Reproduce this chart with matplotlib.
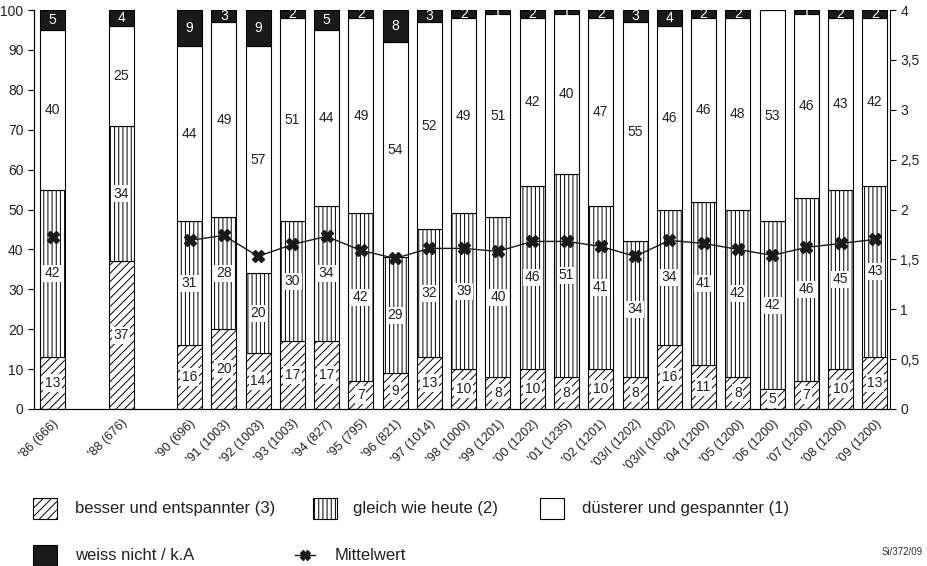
import numpy as np
import matplotlib
matplotlib.use("Agg")
import matplotlib.pyplot as plt
from matplotlib.patches import Rectangle
from matplotlib.lines import Line2D
from matplotlib.ticker import FuncFormatter

plt.rcParams['font.family'] = ['Liberation Sans', 'DejaVu Sans']
plt.rcParams['hatch.linewidth'] = 0.7

# Daten
jahre = ["'86 (666)", "'88 (676)", "'90 (696)", "'91 (1003)", "'92 (1003)", "'93 (1003)",
         "'94 (827)", "'95 (795)", "'96 (821)", "'97 (1014)", "'98 (1000)", "'99 (1201)",
         "'00 (1202)", "'01 (1235)", "'02 (1201)", "'03/I (1202)", "'03/II (1002)",
         "'04 (1200)", "'05 (1200)", "'06 (1200)", "'07 (1200)", "'08 (1200)", "'09 (1200)"]
besser = [13, 37, 16, 20, 14, 17, 17, 7, 9, 13, 10, 8, 10, 8, 10, 8, 16, 11, 8, 5, 7, 10, 13]
gleich = [42, 34, 31, 28, 20, 30, 34, 42, 29, 32, 39, 40, 46, 51, 41, 34, 34, 41, 42, 42, 46, 45, 43]
duester = [40, 25, 44, 49, 57, 51, 44, 49, 54, 52, 49, 51, 42, 40, 47, 55, 46, 46, 48, 53, 46, 43, 42]
weiss = [5, 4, 9, 3, 9, 2, 5, 2, 8, 3, 2, 1, 2, 1, 2, 3, 4, 2, 2, 0, 1, 2, 2]
mittelwert = [1.72, np.nan, 1.69, 1.74, 1.53, 1.65, 1.73, 1.59, 1.51, 1.61, 1.61, 1.58, 1.68,
              1.68, 1.63, 1.53, 1.69, 1.66, 1.60, 1.54, 1.62, 1.66, 1.70]

# Positionen: Lücken für '87 und '89
x = np.r_[0, 2, np.arange(4, 25)]

fig = plt.figure(figsize=(9.27, 5.66), dpi=100)
ax = fig.add_axes([34 / 927, 1 - 409 / 566, (890 - 34) / 927, 399 / 566])

b = np.array(besser)
g = np.array(gleich)
d = np.array(duester)
w = np.array(weiss)
breite = 0.73
box = dict(facecolor='white', edgecolor='none', pad=1.2)

def labels(vals):
    return [str(v) if v > 0 else '' for v in vals]

s1 = ax.bar(x, b, breite, color='white', edgecolor='black', hatch='////', linewidth=0.8)
s2 = ax.bar(x, g, breite, bottom=b, color='white', edgecolor='black', hatch='||||', linewidth=0.8)
s3 = ax.bar(x, d, breite, bottom=b + g, color='white', edgecolor='black', linewidth=0.8)
s4 = ax.bar(x, w, breite, bottom=b + g + d, color='#1a1a1a', edgecolor='black', linewidth=0.8)

for s, vals in [(s1, b), (s2, g), (s3, d)]:
    ax.bar_label(s, labels=labels(vals), label_type='center', fontsize=10, color='#222222', bbox=box)
ax.bar_label(s4, labels=labels(w), label_type='center', fontsize=10, color='white')

ax.set_xlim(-0.54, 24.44)
ax.set_ylim(0, 100)
ax.set_yticks(range(0, 101, 10))
ax.set_xticks(x)
ax.set_xticklabels(jahre, rotation=45, ha='right', rotation_mode='anchor', fontsize=9, color='#222222')
ax.tick_params(axis='x', length=0, pad=6)
ax.tick_params(axis='y', length=4, labelsize=10, labelcolor='#222222')
ax.spines['top'].set_visible(False)
ax.spines['right'].set_visible(False)

ax2 = ax.twinx()
ax2.plot(x, mittelwert, color='#1a1a1a', linewidth=1, marker='X', markersize=9,
         markerfacecolor='#1a1a1a', markeredgecolor='#1a1a1a')
ax2.set_ylim(0, 4)
ax2.set_yticks(np.arange(0, 4.01, 0.5))
ax2.yaxis.set_major_formatter(FuncFormatter(lambda v, p: ('%g' % v).replace('.', ',')))
ax2.tick_params(axis='y', length=4, labelsize=10, labelcolor='#222222')
ax2.spines['top'].set_visible(False)

# Legende
def legend_box(px, py, hatch=None, fc='white'):
    fig.add_artist(Rectangle((px / 927, 1 - (py + 11) / 566), 24 / 927, 21 / 566,
                             transform=fig.transFigure, facecolor=fc, edgecolor='black',
                             hatch=hatch, linewidth=0.8))

legend_box(33, 508, hatch='////')
fig.text(75 / 927, 1 - 508 / 566, 'besser und entspannter (3)', fontsize=12, va='center', color='#222222')
legend_box(313, 508, hatch='||||')
fig.text(353 / 927, 1 - 508 / 566, 'gleich wie heute (2)', fontsize=12, va='center', color='#222222')
legend_box(540, 508)
fig.text(582 / 927, 1 - 508 / 566, 'düsterer und gespannter (1)', fontsize=12, va='center', color='#222222')
legend_box(33, 555, fc='#1a1a1a')
fig.text(75 / 927, 1 - 555 / 566, 'weiss nicht / k.A', fontsize=12, va='center', color='#222222')
fig.add_artist(Line2D([295 / 927, 305 / 927, 315 / 927], [1 - 555 / 566] * 3, transform=fig.transFigure,
                      color='#1a1a1a', linewidth=1, marker='X', markersize=7, markevery=[1],
                      markerfacecolor='#1a1a1a'))
fig.text(335 / 927, 1 - 555 / 566, 'Mittelwert', fontsize=12, va='center', color='#222222')
fig.text(923 / 927, 1 - 552 / 566, 'Si/372/09', fontsize=7, ha='right', va='center', color='#333333')

fig.savefig('out.png', dpi=100)
